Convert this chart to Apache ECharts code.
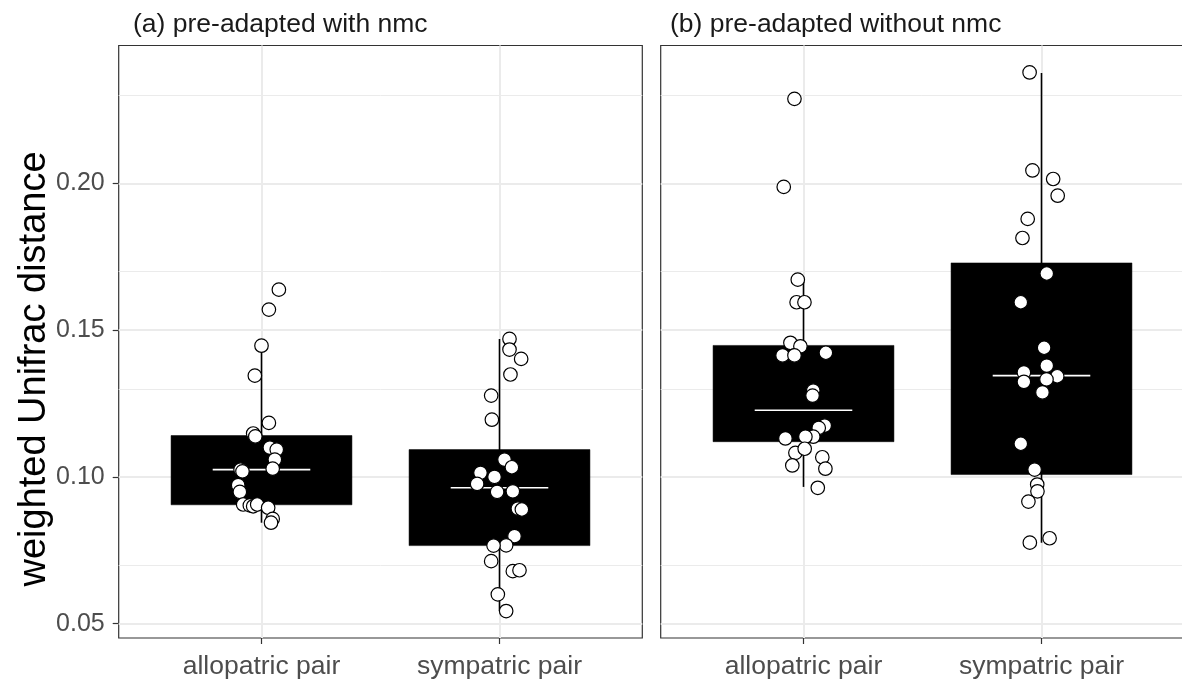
<!DOCTYPE html>
<html>
<head>
<meta charset="utf-8">
<script src="https://cdn.jsdelivr.net/npm/echarts@6/dist/echarts.min.js"></script>
<style>
html,body{margin:0;padding:0;background:#fff;}
#chart{width:1182px;height:682px;}
</style>
</head>
<body>
<div id="chart"></div>
<script>
// ---- data ----
const categories = ['allopatric pair', 'sympatric pair'];
const panelTitles = ['(a) pre-adapted with nmc', '(b) pre-adapted without nmc'];
const yAxisTitle = 'weighted Unifrac distance';
const yTicks = [0.05, 0.10, 0.15, 0.20];
const yMinorTicks = [0.075, 0.125, 0.175, 0.225];

// box statistics: [lower whisker, Q1, median, Q3, upper whisker]
const boxA = [
  [0.0844, 0.0905, 0.1025, 0.1141, 0.1447],
  [0.0543, 0.0766, 0.0963, 0.1093, 0.1470]
];
const boxB = [
  [0.0966, 0.1120, 0.1227, 0.1448, 0.1672],
  [0.0776, 0.1008, 0.1345, 0.1729, 0.2376]
];

// jittered points: [x position (1 = allopatric, 2 = sympatric), value]
const pointsA = [
  [1.073,0.1638],[1.031,0.1570],[1.000,0.1447],[0.972,0.1345],[1.031,0.1184],[0.965,0.1148],
  [0.974,0.1138],[1.035,0.1100],[1.064,0.1093],[1.056,0.1059],[1.047,0.1028],[0.912,0.1025],
  [0.920,0.1019],[0.902,0.0972],[0.909,0.0949],[0.923,0.0906],[0.951,0.0903],[0.965,0.0900],
  [0.982,0.0906],[1.028,0.0895],[1.047,0.0857],[1.040,0.0844],
  [2.042,0.1470],[2.042,0.1434],[2.091,0.1402],[2.046,0.1349],[1.965,0.1277],[1.968,0.1195],
  [2.021,0.1059],[2.052,0.1033],[1.920,0.1014],[1.979,0.1000],[1.906,0.0976],[1.990,0.0949],
  [2.056,0.0951],[2.077,0.0892],[2.094,0.0889],[2.063,0.0798],[2.028,0.0767],[1.975,0.0766],
  [1.965,0.0713],[2.056,0.0679],[2.084,0.0682],[1.993,0.0600],[2.028,0.0543]
];
const pointsB = [
  [0.962,0.2288],[0.917,0.1988],[0.976,0.1672],[0.971,0.1595],[1.004,0.1595],[0.945,0.1457],
  [0.987,0.1445],[0.912,0.1414],[0.962,0.1414],[1.094,0.1423],[1.041,0.1294],[1.038,0.1277],
  [1.089,0.1175],[1.064,0.1167],[1.041,0.1137],[1.008,0.1137],[0.924,0.1131],[0.966,0.1082],
  [1.005,0.1096],[0.953,0.1039],[1.079,0.1067],[1.092,0.1028],[1.060,0.0963],
  [1.950,0.2378],[1.962,0.2044],[2.049,0.2015],[2.068,0.1958],[1.942,0.1879],[1.920,0.1814],
  [2.022,0.1693],[1.913,0.1595],[2.011,0.1440],[2.022,0.1379],[1.926,0.1356],[1.926,0.1324],
  [2.066,0.1343],[2.021,0.1332],[2.004,0.1288],[1.913,0.1113],[1.971,0.1025],[1.982,0.0974],
  [1.983,0.0951],[1.945,0.0916],[2.034,0.0791],[1.951,0.0776]
];

// ---- scales (ggplot-like expansion) ----
const allVals = pointsA.concat(pointsB).map(p => p[1])
  .concat(boxA.flat(), boxB.flat());
const vMin = Math.min(...allVals), vMax = Math.max(...allVals);
const span = vMax - vMin;
const yMin = vMin - 0.05 * span, yMax = vMax + 0.05 * span;
const xMin = 0.4, xMax = categories.length + 0.6;

const FONT = "'Liberation Sans', Arial, Helvetica, sans-serif";
const GRID_COLOR = '#EBEBEB';

function gridLines() {
  const d = [];
  yMinorTicks.forEach(v => d.push({ yAxis: v, lineStyle: { width: 1, color: GRID_COLOR, type: 'solid' } }));
  yTicks.forEach(v => d.push({ yAxis: v, lineStyle: { width: 2, color: GRID_COLOR, type: 'solid' } }));
  categories.forEach((c, i) => d.push({ xAxis: i + 1, lineStyle: { width: 2, color: GRID_COLOR, type: 'solid' } }));
  return d;
}

function boxRender(params, api) {
  const x = api.value(0);
  const pMin = api.coord([x, api.value(1)]);
  const pQ1 = api.coord([x, api.value(2)]);
  const pMed = api.coord([x, api.value(3)]);
  const pQ3 = api.coord([x, api.value(4)]);
  const pMax = api.coord([x, api.value(5)]);
  const bw = api.size([0.76, 0])[0];
  const mw = api.size([0.41, 0])[0];
  const cx = pMed[0];
  return {
    type: 'group',
    children: [
      { type: 'line', shape: { x1: cx, y1: pMax[1], x2: cx, y2: pMin[1] },
        style: { stroke: '#000', lineWidth: 1.6 } },
      { type: 'rect', shape: { x: cx - bw / 2, y: pQ3[1], width: bw, height: pQ1[1] - pQ3[1] },
        style: { fill: '#000', stroke: '#000', lineWidth: 0.5 } },
      { type: 'line', shape: { x1: cx - mw / 2, y1: pMed[1], x2: cx + mw / 2, y2: pMed[1] },
        style: { stroke: '#fff', lineWidth: 1.6 } }
    ]
  };
}

const grids = [
  { left: 118.7, top: 45.5, width: 523.6, height: 592.5 },
  { left: 660.7, top: 45.5, width: 523.6, height: 592.5 }
];
const titleLeft = [133, 670];

const xAxes = grids.map((g, i) => ({
  type: 'value', gridIndex: i, min: xMin, max: xMax,
  axisLine: { show: false },
  splitLine: { show: false },
  axisTick: { show: true, customValues: categories.map((c, k) => k + 1), length: 6,
              lineStyle: { color: '#333', width: 1.2 } },
  axisLabel: { show: true, customValues: categories.map((c, k) => k + 1), margin: 15,
               formatter: v => categories[Math.round(v) - 1] || '',
               fontSize: 26.5, color: '#4D4D4D', fontFamily: FONT }
}));

const yAxes = grids.map((g, i) => ({
  type: 'value', gridIndex: i, min: yMin, max: yMax,
  axisLine: { show: false },
  splitLine: { show: false },
  axisTick: { show: i === 0, customValues: yTicks, length: 6,
              lineStyle: { color: '#333', width: 1.2 } },
  axisLabel: { show: i === 0, customValues: yTicks, margin: 14,
               formatter: v => v.toFixed(2),
               fontSize: 25, color: '#4D4D4D', fontFamily: FONT }
}));

const series = [];
[boxA, boxB].forEach((boxes, i) => {
  series.push({
    type: 'line', xAxisIndex: i, yAxisIndex: i, data: [], z: 1, silent: true,
    markLine: { silent: true, z: 1, symbol: ['none', 'none'], label: { show: false },
                animation: false, data: gridLines() }
  });
  series.push({
    type: 'custom', xAxisIndex: i, yAxisIndex: i, z: 2, silent: true,
    renderItem: boxRender,
    encode: { x: 0, y: [1, 2, 3, 4, 5] },
    data: boxes.map((b, k) => [k + 1].concat(b))
  });
});
[pointsA, pointsB].forEach((pts, i) => {
  series.push({
    type: 'scatter', xAxisIndex: i, yAxisIndex: i, z: 3, silent: true,
    symbol: 'circle', symbolSize: 13.5,
    itemStyle: { color: '#fff', borderColor: '#000', borderWidth: 1.2, opacity: 1 },
    data: pts
  });
});

const chart = echarts.init(document.getElementById('chart'), null, { renderer: 'canvas' });
chart.setOption({
  animation: false,
  backgroundColor: '#fff',
  title: panelTitles.map((t, i) => ({
    text: t, left: titleLeft[i] - 5, top: 6,
    textStyle: { fontSize: 26.5, fontWeight: 'normal', color: '#1A1A1A', fontFamily: FONT }
  })),
  graphic: [{
    type: 'text', x: 35, y: 369, rotation: Math.PI / 2, silent: true,
    style: { text: yAxisTitle, font: "38px 'Liberation Sans', Arial, sans-serif",
             fill: '#000', align: 'center', verticalAlign: 'middle' }
  }],
  grid: grids.map(g => Object.assign({ show: true, borderColor: '#333', borderWidth: 1.2,
                                        backgroundColor: 'transparent', containLabel: false,
                                        outerBoundsMode: 'none' }, g)),
  xAxis: xAxes,
  yAxis: yAxes,
  series: series
});
</script>
</body>
</html>
